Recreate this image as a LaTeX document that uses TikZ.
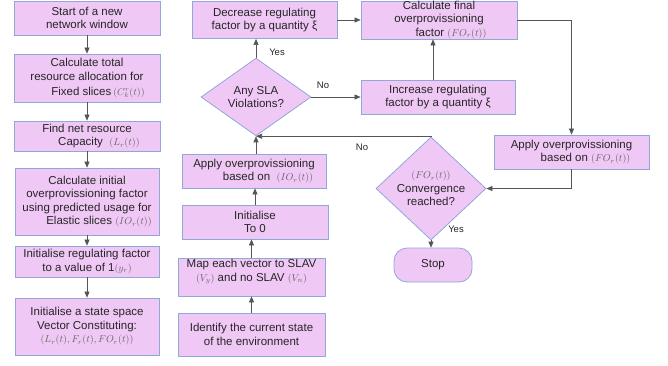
\documentclass[tikz,border=0pt]{standalone}
\usepackage{fontspec}
\setmainfont{Liberation Sans}
\usetikzlibrary{shapes.geometric,arrows.meta}
\definecolor{boxfill}{HTML}{F0C8F5}
\definecolor{boxdraw}{HTML}{8FA8D8}
\definecolor{linegray}{HTML}{555555}
\definecolor{mathgray}{HTML}{666666}
\newcommand\mth[1]{{\color{mathgray}\fontsize{10}{11}\selectfont$#1$}}
\tikzset{
  box/.style={draw=boxdraw, fill=boxfill, line width=0.8pt, inner sep=0pt, align=center,
    font=\fontsize{11.5}{13.5}\selectfont, text=black!85},
  dia/.style={box, diamond},
  term/.style={box, rounded corners=13pt},
  conn/.style={draw=linegray, line width=0.6pt, -{Triangle[length=6pt,width=5pt]}},
  lbl/.style={font=\fontsize{9.5}{11}\selectfont, text=black!85, inner sep=0pt}
}
\begin{document}
\begin{tikzpicture}[x=1pt,y=-1pt]
\useasboundingbox (0,0) rectangle (668,365);
% left column
\node[box, minimum width=146, minimum height=34] (s1) at (87,18) {Start of a new\\network window};
\node[box, minimum width=146, minimum height=48] (s2) at (87,78) {Calculate total\\resource allocation for\\[1.5pt]\hspace*{22pt}Fixed slices\,\mth{(C^{r}_{k}(t))}};
\node[box, minimum width=146, minimum height=30] (s3) at (87,136) {Find net resource\\\hspace*{24pt}Capacity \ \mth{(L_r(t))}};
\node[box, minimum width=144, minimum height=67] (s4) at (87,201.5) {Calculate initial\\overprovissioning factor\\using predicted usage for\\\hspace*{24pt}Elastic slices \mth{(IO_r(t))}};
\node[box, minimum width=144, minimum height=31] (s5) at (87,261.5) {Initialise regulating factor\\to a value of 1\mth{(y_r)}};
\node[box, minimum width=144, minimum height=57] (s6) at (87,326.5) {Initialise a state space\\Vector Constituting:\\\mth{(L_r(t), F_r(t), FO_r(t))}};
% middle column
\node[box, minimum width=145, minimum height=37] (dec) at (264.5,20) {Decrease regulating\\factor by a quantity ξ};
\node[dia, minimum width=110, minimum height=76] (sla) at (256,97) {Any SLA\\Violations?};
\node[box, minimum width=144, minimum height=34] (aio) at (254,171) {Apply overprovissioning\\\hspace*{28pt}based on \ \mth{(IO_r(t))}};
\node[box, minimum width=146, minimum height=34] (ini0) at (255,222) {Initialise\\To 0};
\node[box, minimum width=147, minimum height=38] (map) at (251.5,277) {Map each vector to SLAV\\\mth{(V_y)} and no SLAV \mth{(V_n)}\\\mbox{}};
\node[box, minimum width=147, minimum height=43] (idf) at (251.5,334.5) {Identify the current state\\of the environment};
% right area
\node[box, minimum width=156, minimum height=37] (fin) at (439,20) {Calculate final\\overprovissioning\\\hspace*{24pt}factor \mth{(FO_r(t))}};
\node[box, minimum width=154, minimum height=34] (inc) at (438,97) {Increase regulating\\factor by a quantity ξ};
\node[box, minimum width=155, minimum height=34] (afo) at (571.5,152) {Apply overprovissioning\\\hspace*{28pt}based on \mth{(FO_r(t))}};
\node[dia, minimum width=110, minimum height=77] (conv) at (431,188.5) {\mth{(FO_r(t))}\\Convergence\\reached?};
\node[term, minimum width=78, minimum height=34] (stop) at (433,265) {Stop};
% left arrows
\draw[conn] (s1) -- (s2);
\draw[conn] (s2) -- (s3);
\draw[conn] (s3) -- (s4);
\draw[conn] (s4) -- (s5);
\draw[conn] (s5) -- (s6);
% middle arrows
\draw[conn] (idf.north -| map.south) -- (map.south);
\draw[conn] (map.north) -- (map.north |- ini0.south);
\draw[conn] (ini0.north) -- (ini0.north |- aio.south);
\draw[conn] (aio.north -| sla.south) -- (sla.south);
\draw[conn] (sla.north) -- (sla.north |- dec.south);
\draw[conn] (sla.east) -- (sla.east -| inc.west);
\draw[conn] (dec.east) -- (dec.east -| fin.west);
\coordinate (incup) at (433,80);
\draw[conn] (incup) -- (incup |- fin.south);
\draw[conn] (fin.east) -| (afo.north);
\draw[conn] (afo.south) |- (conv.east);
\draw[conn] (conv.north) |- (sla.south);
\draw[conn] (conv.south) -- (conv.south |- stop.north);
% labels
\node[lbl] (y1) at (277,52) {Yes};
\node[lbl] (n1) at (323,85) {No};
\node[lbl] (n2) at (362,147) {No};
\node[lbl] (y2) at (456,229) {Yes};
\end{tikzpicture}
\end{document}
